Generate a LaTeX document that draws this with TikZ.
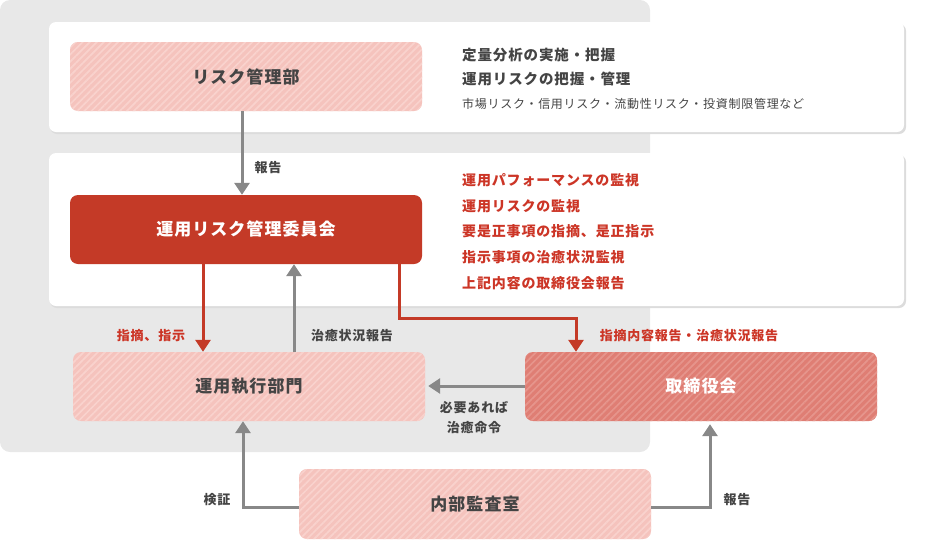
\documentclass[tikz,border=0pt]{standalone}
\usepackage{fontspec}
\setmainfont{Noto Sans CJK JP}
\newfontfamily\jp[LetterSpace=6]{Noto Sans CJK JP}
\usetikzlibrary{arrows.meta,patterns.meta}
\definecolor{bggray}{HTML}{E8E8E8}
\definecolor{pinkbase}{HTML}{F5C3BD}
\definecolor{pinkstripe}{HTML}{F9D2CD}
\definecolor{salbase}{HTML}{DF7E74}
\definecolor{salstripe}{HTML}{E6958C}
\definecolor{comred}{HTML}{C43A27}
\definecolor{txtred}{HTML}{CC3526}
\definecolor{arrgray}{HTML}{888888}
\definecolor{txtdark}{HTML}{444444}
\definecolor{shadowgray}{HTML}{DCDCDC}
\tikzset{
  panel/.style={fill=white, rounded corners=7pt},
  boxbase/.style={rounded corners=8pt, minimum width=352pt, minimum height=69pt, inner sep=0pt, font=\jp\fontsize{17}{20}\selectfont\bfseries},
  pinkbox/.style={boxbase, fill=pinkbase, text=txtdark, postaction={pattern={Lines[angle=45,distance=5pt,line width=1.7pt]}, pattern color=pinkstripe}},
  salbox/.style={boxbase, fill=salbase, text=white, postaction={pattern={Lines[angle=45,distance=5pt,line width=1.7pt]}, pattern color=salstripe}},
  redbox/.style={boxbase, fill=comred, text=white},
  grayarrow/.style={draw=arrgray, line width=3pt, -{Triangle[width=15pt,length=12pt]}},
  redarrow/.style={draw=comred, line width=3pt, -{Triangle[width=15pt,length=12pt]}},
  lbl/.style={font=\jp\fontsize{13}{15}\selectfont\bfseries, text=txtdark, inner sep=0pt},
  redlbl/.style={font=\jp\fontsize{13}{15}\selectfont\bfseries, text=txtred, inner sep=0pt},
  sidetxt/.style={font=\jp\fontsize{14.5}{16}\selectfont\bfseries, text=txtdark, anchor=west, inner sep=0pt},
  smalltxt/.style={font=\jp\fontsize{12}{14}\selectfont, text=txtdark, anchor=west, inner sep=0pt},
  redtxt/.style={font=\jp\fontsize{14}{16}\selectfont\bfseries, text=txtred, anchor=west, inner sep=0pt}
}
\begin{document}
\begin{tikzpicture}[x=1pt,y=-1pt]
\useasboundingbox (0,0) rectangle (950,549);
% gray background
\fill[bggray, rounded corners=10pt] (0,0) rectangle (650,452);
% panels with subtle shadow
\fill[shadowgray, rounded corners=7pt] (50,24) rectangle (906,134);
\fill[panel] (49,22) rectangle (904,132);
\fill[shadowgray, rounded corners=7pt] (50,155) rectangle (906,308);
\fill[panel] (49,153) rectangle (904,306);
% boxes
\node[pinkbox] (rm) at (246,76.5) {リスク管理部};
\node[redbox] (com) at (246,229.5) {運用リスク管理委員会};
\node[pinkbox] (exe) at (249,386.5) {運用執行部門};
\node[salbox] (board) at (701,386.5) {取締役会};
\node[pinkbox, minimum width=352pt, minimum height=70pt] (audit) at (475,504) {内部監査室};
% helper coordinates
\coordinate (xa) at (242,0);
\coordinate (xb) at (203,0);
\coordinate (xc) at (294,0);
\coordinate (xd) at (399,0);
\coordinate (xe) at (576,0);
\coordinate (xf) at (243,0);
\coordinate (xg) at (710,0);
\coordinate (yh) at (0,318);
\coordinate (yi) at (0,386);
\coordinate (yj) at (0,507);
% right texts
\node[sidetxt] (t1) at (462,55) {定量分析の実施・把握};
\node[sidetxt] (t2) at (462,79) {運用リスクの把握・管理};
\node[smalltxt] (t3) at (462,104) {市場リスク・信用リスク・流動性リスク・投資制限管理など};
\node[redtxt] (r1) at (462,180) {運用パフォーマンスの監視};
\node[redtxt] (r2) at (462,206) {運用リスクの監視};
\node[redtxt] (r3) at (462,231.5) {要是正事項の指摘、是正指示};
\node[redtxt] (r4) at (462,257) {指示事項の治癒状況監視};
\node[redtxt] (r5) at (462,283) {上記内容の取締役会報告};
% connectors
\draw[grayarrow] (rm.south -| xa) -- (com.north -| xa);
\node[lbl] (l1) at (268,168) {報告};
\draw[redarrow] (com.south -| xb) -- (exe.north -| xb);
\node[redlbl] (l2) at (151,336) {指摘、指示};
\draw[grayarrow] (exe.north -| xc) -- (com.south -| xc);
\node[lbl] (l3) at (352,336) {治癒状況報告};
\draw[redarrow] (com.south -| xd) -- (yh -| xd) -- (yh -| xe) -- (board.north -| xe);
\node[redlbl] (l4) at (689,336) {指摘内容報告・治癒状況報告};
\draw[grayarrow] (board.west |- yi) -- ([xshift=3pt]exe.east |- yi);
\node[lbl] (l5) at (474,408) {必要あれば};
\node[lbl] (l6) at (474,428) {治癒命令};
\draw[grayarrow] (audit.west |- yj) -- (yj -| xf) -- (exe.south -| xf);
\node[lbl] (l7) at (217,500) {検証};
\draw[grayarrow] (audit.east |- yj) -- (yj -| xg) -- ([yshift=-3pt]board.south -| xg);
\node[lbl] (l8) at (737,500) {報告};
\end{tikzpicture}
\end{document}
